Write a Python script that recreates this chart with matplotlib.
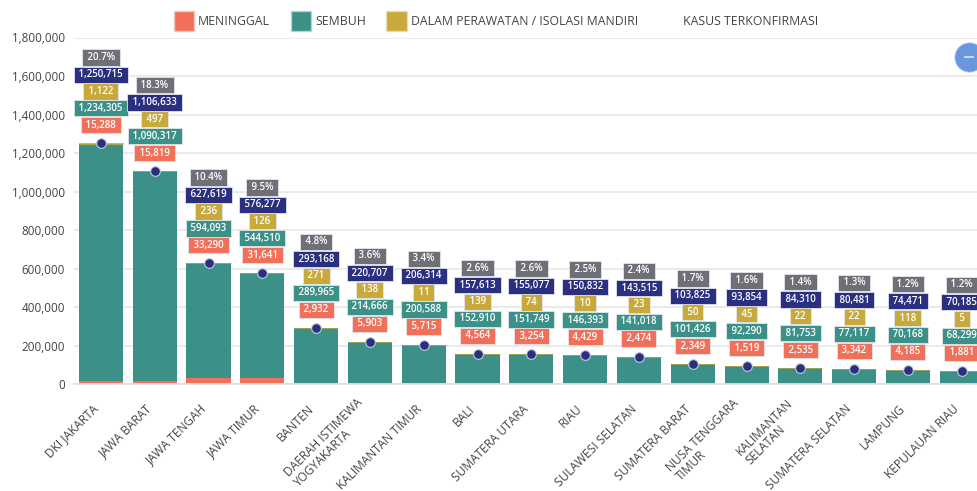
import matplotlib
matplotlib.use('Agg')
import matplotlib.pyplot as plt
import matplotlib.transforms as mtransforms
from matplotlib.patches import Patch
import numpy as np

plt.rcParams['font.family'] = ['Open Sans', 'DejaVu Sans']

# Data
provinces = ['DKI JAKARTA', 'JAWA BARAT', 'JAWA TENGAH', 'JAWA TIMUR', 'BANTEN',
             'DAERAH ISTIMEWA\nYOGYAKARTA', 'KALIMANTAN TIMUR', 'BALI', 'SUMATERA UTARA',
             'RIAU', 'SULAWESI SELATAN', 'SUMATERA BARAT', 'NUSA TENGGARA\nTIMUR',
             'KALIMANTAN\nSELATAN', 'SUMATERA SELATAN', 'LAMPUNG', 'KEPULAUAN RIAU']
meninggal = [15288, 15819, 33290, 31641, 2932, 5903, 5715, 4564, 3254, 4429, 2474,
             2349, 1519, 2535, 3342, 4185, 1881]
sembuh = [1234305, 1090317, 594093, 544510, 289965, 214666, 200588, 152910, 151749,
          146393, 141018, 101426, 92290, 81753, 77117, 70168, 68299]
perawatan = [1122, 497, 236, 126, 271, 138, 11, 139, 74, 10, 23, 50, 45, 22, 22, 118, 5]
terkonfirmasi = [1250715, 1106633, 627619, 576277, 293168, 220707, 206314, 157613, 155077,
                 150832, 143515, 103825, 93854, 84310, 80481, 74471, 70185]
persen = [20.7, 18.3, 10.4, 9.5, 4.8, 3.6, 3.4, 2.6, 2.6, 2.5, 2.4, 1.7, 1.6, 1.4, 1.3, 1.2, 1.2]
yticks = [0, 200000, 400000, 600000, 800000, 1000000, 1200000, 1400000, 1600000, 1800000]

RED = '#F0705A'
TEAL = '#3B9188'
YELLOW = '#C8A93C'
NAVY = '#2A2F80'
GREY = '#6F6F78'
W, H = 977, 491

fig = plt.figure(figsize=(W / 100, H / 100), dpi=100)
ax = fig.add_axes([74 / W, 1 - 384.3 / H, (W - 74) / W, (384.3 - 37.5) / H])

x = np.arange(len(provinces))
m = np.array(meninggal)
s = np.array(sembuh)
p = np.array(perawatan)
ax.bar(x, m, width=0.82, color=RED, zorder=2)
ax.bar(x, s, width=0.82, bottom=m, color=TEAL, zorder=2)
ax.bar(x, p, width=0.82, bottom=m + s, color=YELLOW, ec=YELLOW, lw=0.5, zorder=2)
ax.plot(x, terkonfirmasi, 'o', ms=7, color=NAVY, mec='#c9cbe0', mew=0.8, zorder=3, clip_on=False)

# Stacked value boxes above each point, offsets in points
def box(xi, yi, txt, color, off):
    ax.annotate(f' {txt} ', (xi, yi), xytext=(0, off), textcoords='offset points',
                ha='center', va='center', fontsize=7.0, color='white', fontweight='semibold',
                bbox=dict(boxstyle='square,pad=0.27', fc=color, ec='#e4e4ea', lw=0.6), zorder=4)

for i in x:
    y = terkonfirmasi[i]
    box(i, y, f'{meninggal[i]:,}', RED, 13)
    box(i, y, f'{sembuh[i]:,}', TEAL, 25.2)
    box(i, y, f'{perawatan[i]:,}', YELLOW, 37.4)
    box(i, y, f'{terkonfirmasi[i]:,}', NAVY, 49.4)
    box(i, y, f'{persen[i]}%', GREY, 61.8)

ax.set_xlim(-0.5, (W - 101) / 53.8)
ax.set_ylim(0, 1800000)
ax.set_yticks(yticks)
ax.set_yticklabels([f'{v:,}' for v in yticks], fontsize=8.4, color='#444444')
ax.set_xticks(x)
ax.set_xticklabels(provinces, rotation=45, ha='right', rotation_mode='anchor',
                   fontsize=8.6, color='#444444', linespacing=1.05, multialignment='left')
ax.tick_params(axis='y', length=0, pad=6.5)
ax.tick_params(axis='x', length=0, pad=13)
# tick_params resets label transforms, so the shifts have to come after it
for lab in ax.get_xticklabels():
    if '\n' in lab.get_text():
        shift = mtransforms.ScaledTranslation(-14 / 100, 6 / 100, fig.dpi_scale_trans)
    else:
        shift = mtransforms.ScaledTranslation(-9 / 100, 0, fig.dpi_scale_trans)
    lab.set_transform(lab.get_transform() + shift)
ax.grid(axis='y', color='#e8e8e8', lw=1.3, zorder=0)
ax.set_axisbelow(True)
for side in ['top', 'right', 'left']:
    ax.spines[side].set_visible(False)
ax.spines['bottom'].set_color('#e0e0e0')
ax.spines['bottom'].set_linewidth(1.3)

handles = [Patch(fc=RED, ec='#f4c6bc'), Patch(fc=TEAL, ec='#b5d4d0'),
           Patch(fc=YELLOW, ec='#e6dcae'), Patch(fc='white', ec='white')]
labels = ['MENINGGAL', 'SEMBUH', 'DALAM PERAWATAN / ISOLASI MANDIRI', 'KASUS TERKONFIRMASI']
leg = fig.legend(handles, labels, ncol=4, frameon=False, fontsize=8.8, labelcolor='#444444',
                 loc='center left', bbox_to_anchor=(163 / W, 1 - 21 / H),
                 handlelength=1.65, handleheight=2.1, handletextpad=0.33, columnspacing=1.68)

# Round zoom button clipped by the right edge
fig.add_artist(plt.Line2D([969 / W], [1 - 57 / H], marker='o', ms=21, color='#6A96DE',
                          mec='#a9c2ec', mew=0.6, transform=fig.transFigure))
fig.add_artist(plt.Line2D([965 / W, 973 / W], [1 - 57 / H, 1 - 57 / H], color='#dce6f7', lw=1.2,
                          transform=fig.transFigure))

fig.savefig('out.png', dpi=100)
